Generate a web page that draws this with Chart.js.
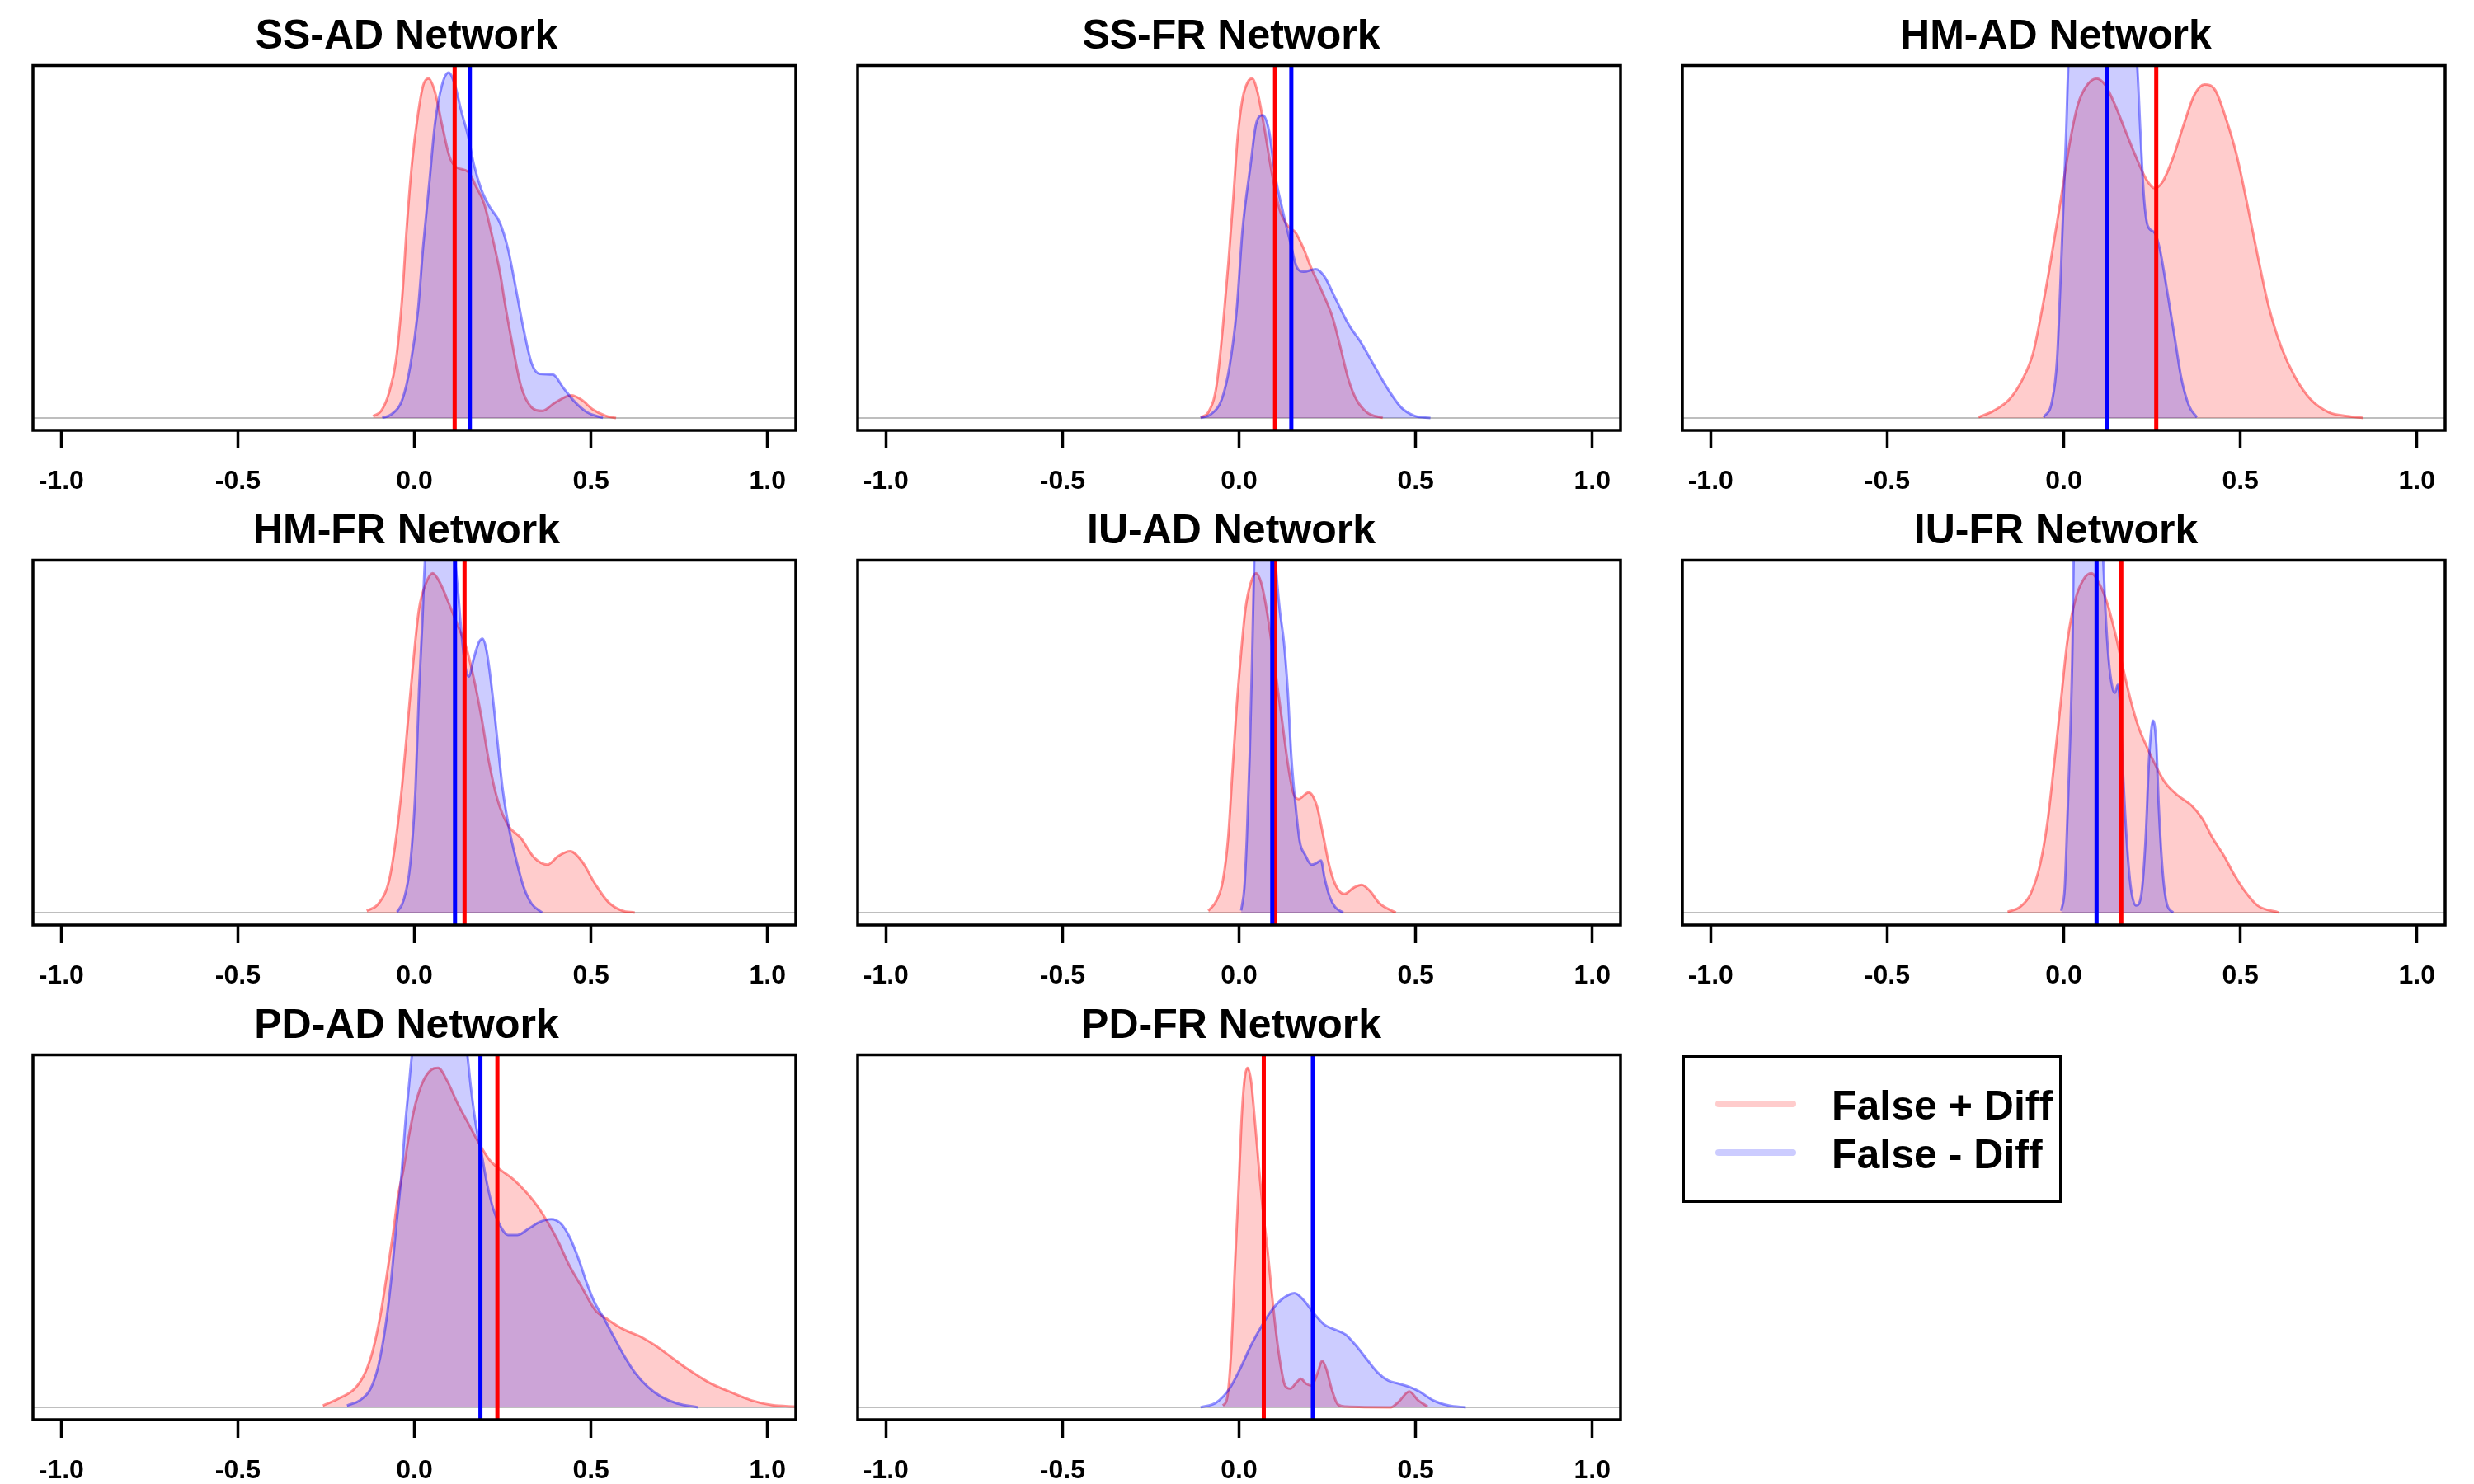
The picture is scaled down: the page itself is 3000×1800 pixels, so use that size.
<!DOCTYPE html>
<html>
<head>
<meta charset="utf-8">
<script src="https://cdn.jsdelivr.net/npm/chart.js@4.4.1/dist/chart.umd.min.js"></script>
<style>
html,body{margin:0;padding:0;background:#fff;}
#wrap{position:relative;width:3000px;height:1800px;overflow:hidden;background:#fff;}
#wrap canvas{position:absolute;}
.ptitle{position:absolute;width:1000px;text-align:center;font-family:'Liberation Sans',Arial,sans-serif;font-weight:bold;
  font-size:50px;line-height:50px;color:#000;white-space:nowrap;}
#legend{position:absolute;left:2040px;top:1280px;width:460px;height:179px;box-sizing:border-box;border:3px solid #000;
  font-family:'Liberation Sans',Arial,sans-serif;font-weight:bold;font-size:50px;line-height:50px;color:#000;}
#legend .sw{position:absolute;left:37px;width:98px;height:8px;border-radius:4px;}
#legend .lb{position:absolute;left:178px;white-space:nowrap;}
</style>
</head>
<body>
<div id="wrap">
  <div id="legend"></div>
</div>
<script>
// ---------- data ----------
const panelTitles = ['SS-AD Network','SS-FR Network','HM-AD Network','HM-FR Network','IU-AD Network','IU-FR Network','PD-AD Network','PD-FR Network'];
const xTicks = [-1, -0.5, 0, 0.5, 1];
const legendLabels = ['False + Diff', 'False - Diff'];
const redMeans  = [0.114, 0.102, 0.262, 0.142, 0.102, 0.163, 0.235, 0.070];
const blueMeans = [0.157, 0.148, 0.123, 0.115, 0.094, 0.093, 0.187, 0.209];

const ssadRed = [[-0.117,0.005],[-0.094,0.020],[-0.072,0.071],[-0.052,0.164],[-0.034,0.350],[-0.022,0.536],[-0.007,0.721],[0.010,0.861],[0.025,0.944],[0.040,0.963],[0.058,0.926],[0.078,0.833],[0.100,0.740],[0.118,0.712],[0.153,0.698],[0.175,0.656],[0.197,0.610],[0.220,0.517],[0.242,0.415],[0.257,0.322],[0.277,0.211],[0.302,0.090],[0.332,0.030],[0.362,0.020],[0.399,0.044],[0.444,0.064],[0.474,0.051],[0.504,0.025],[0.542,0.006],[0.571,0]];
const ssadBlue = [[-0.091,0],[-0.064,0.011],[-0.034,0.053],[-0.012,0.146],[0.010,0.304],[0.025,0.489],[0.043,0.675],[0.058,0.833],[0.078,0.944],[0.097,0.980],[0.115,0.944],[0.133,0.870],[0.153,0.796],[0.168,0.721],[0.190,0.647],[0.212,0.601],[0.242,0.554],[0.265,0.480],[0.287,0.369],[0.310,0.248],[0.332,0.155],[0.355,0.125],[0.392,0.123],[0.422,0.085],[0.452,0.048],[0.489,0.016],[0.534,0]];

const ssfrRed = [[-0.109,0.002],[-0.087,0.016],[-0.064,0.090],[-0.046,0.257],[-0.030,0.443],[-0.016,0.629],[-0.004,0.796],[0.010,0.907],[0.025,0.954],[0.037,0.963],[0.052,0.926],[0.070,0.833],[0.093,0.694],[0.115,0.591],[0.138,0.545],[0.160,0.526],[0.183,0.480],[0.205,0.424],[0.235,0.359],[0.265,0.285],[0.287,0.201],[0.310,0.109],[0.332,0.053],[0.362,0.016],[0.407,0]];
const ssfrBlue = [[-0.109,0],[-0.079,0.011],[-0.049,0.053],[-0.027,0.146],[-0.007,0.304],[0.010,0.536],[0.033,0.721],[0.048,0.833],[0.067,0.859],[0.085,0.814],[0.103,0.684],[0.123,0.591],[0.145,0.499],[0.163,0.429],[0.183,0.415],[0.217,0.422],[0.242,0.401],[0.272,0.341],[0.310,0.266],[0.347,0.211],[0.384,0.146],[0.422,0.081],[0.459,0.030],[0.497,0.006],[0.542,0]];

const hmadRed = [[-0.241,0.002],[-0.199,0.020],[-0.154,0.053],[-0.117,0.109],[-0.087,0.183],[-0.064,0.294],[-0.042,0.415],[-0.019,0.554],[-0.004,0.647],[0.018,0.786],[0.040,0.889],[0.063,0.940],[0.093,0.963],[0.118,0.944],[0.145,0.889],[0.175,0.814],[0.205,0.740],[0.235,0.675],[0.257,0.652],[0.280,0.670],[0.310,0.740],[0.340,0.833],[0.370,0.917],[0.399,0.946],[0.429,0.930],[0.459,0.851],[0.489,0.749],[0.519,0.610],[0.549,0.461],[0.579,0.322],[0.616,0.201],[0.654,0.118],[0.699,0.053],[0.751,0.016],[0.803,0.005],[0.848,0]];
const hmadBlue = [[-0.057,0.002],[-0.034,0.044],[-0.019,0.164],[-0.007,0.443],[0.000,0.629],[0.007,0.814],[0.013,1.0],[0.03,1.2],[0.07,1.32],[0.12,1.3],[0.17,1.18],[0.208,1.0],[0.217,0.814],[0.227,0.629],[0.238,0.545],[0.257,0.526],[0.272,0.480],[0.287,0.396],[0.302,0.304],[0.317,0.211],[0.332,0.118],[0.355,0.034],[0.377,0.002]];

const hmfrRed = [[-0.135,0.005],[-0.102,0.025],[-0.072,0.090],[-0.052,0.211],[-0.034,0.369],[-0.019,0.536],[-0.004,0.703],[0.013,0.861],[0.033,0.935],[0.052,0.963],[0.073,0.935],[0.097,0.879],[0.123,0.814],[0.145,0.759],[0.168,0.666],[0.190,0.554],[0.212,0.424],[0.235,0.322],[0.265,0.248],[0.302,0.211],[0.340,0.155],[0.377,0.136],[0.407,0.160],[0.441,0.174],[0.474,0.146],[0.512,0.081],[0.549,0.030],[0.587,0.006],[0.624,0]];
const hmfrBlue = [[-0.049,0.002],[-0.031,0.034],[-0.012,0.136],[0.003,0.350],[0.013,0.629],[0.022,0.814],[0.030,1.0],[0.05,1.15],[0.08,1.2],[0.105,1.1],[0.115,1.0],[0.124,0.907],[0.133,0.796],[0.145,0.694],[0.154,0.670],[0.168,0.721],[0.183,0.768],[0.193,0.777],[0.205,0.740],[0.220,0.629],[0.235,0.489],[0.250,0.350],[0.268,0.239],[0.287,0.155],[0.310,0.071],[0.332,0.025],[0.362,0]];

const iuadRed = [[-0.087,0.005],[-0.064,0.034],[-0.046,0.090],[-0.031,0.211],[-0.019,0.396],[-0.007,0.582],[0.006,0.740],[0.018,0.861],[0.033,0.935],[0.048,0.963],[0.063,0.935],[0.078,0.861],[0.093,0.759],[0.108,0.647],[0.123,0.536],[0.138,0.424],[0.153,0.341],[0.168,0.322],[0.197,0.341],[0.220,0.304],[0.238,0.220],[0.257,0.127],[0.277,0.071],[0.298,0.053],[0.325,0.071],[0.347,0.079],[0.370,0.062],[0.399,0.025],[0.444,0]];
const iuadBlue = [[0.006,0.006],[0.015,0.071],[0.022,0.211],[0.030,0.443],[0.037,0.721],[0.043,1.0],[0.06,1.25],[0.08,1.3],[0.095,1.15],[0.103,1.0],[0.115,0.861],[0.127,0.768],[0.138,0.629],[0.148,0.443],[0.160,0.304],[0.172,0.201],[0.187,0.164],[0.205,0.136],[0.220,0.141],[0.232,0.148],[0.242,0.099],[0.257,0.044],[0.272,0.016],[0.295,0]];

const iufrRed = [[-0.159,0.002],[-0.124,0.016],[-0.094,0.053],[-0.067,0.136],[-0.046,0.257],[-0.027,0.424],[-0.007,0.610],[0.010,0.768],[0.033,0.889],[0.055,0.944],[0.078,0.963],[0.100,0.935],[0.123,0.879],[0.145,0.796],[0.168,0.694],[0.190,0.601],[0.212,0.526],[0.235,0.471],[0.257,0.424],[0.287,0.369],[0.325,0.331],[0.362,0.304],[0.392,0.267],[0.422,0.211],[0.452,0.164],[0.482,0.109],[0.512,0.062],[0.549,0.020],[0.609,0]];
const iufrBlue = [[-0.007,0.005],[0.003,0.071],[0.010,0.257],[0.018,0.489],[0.025,0.768],[0.028,1.0],[0.05,1.2],[0.075,1.3],[0.1,1.2],[0.112,1.0],[0.118,0.861],[0.127,0.721],[0.138,0.638],[0.145,0.624],[0.153,0.647],[0.160,0.582],[0.168,0.396],[0.178,0.211],[0.190,0.071],[0.205,0.020],[0.220,0.053],[0.232,0.211],[0.242,0.443],[0.253,0.545],[0.262,0.480],[0.269,0.304],[0.280,0.118],[0.292,0.025],[0.310,0]];

const pdadRed = [[-0.259,0.005],[-0.214,0.025],[-0.169,0.053],[-0.139,0.099],[-0.117,0.164],[-0.097,0.257],[-0.079,0.369],[-0.061,0.489],[-0.046,0.601],[-0.031,0.675],[-0.016,0.768],[0.003,0.861],[0.025,0.926],[0.048,0.958],[0.067,0.963],[0.093,0.926],[0.123,0.861],[0.153,0.805],[0.183,0.749],[0.212,0.703],[0.242,0.675],[0.280,0.647],[0.317,0.610],[0.347,0.573],[0.377,0.526],[0.407,0.471],[0.437,0.406],[0.474,0.341],[0.512,0.276],[0.549,0.248],[0.594,0.220],[0.639,0.201],[0.684,0.174],[0.729,0.141],[0.773,0.109],[0.833,0.071],[0.893,0.044],[0.953,0.020],[1.013,0.006],[1.080,0.002]];
const pdadBlue = [[-0.191,0.005],[-0.154,0.020],[-0.124,0.053],[-0.102,0.118],[-0.082,0.229],[-0.067,0.350],[-0.052,0.508],[-0.037,0.656],[-0.025,0.814],[-0.016,0.907],[-0.007,1.0],[0.02,1.15],[0.06,1.25],[0.1,1.2],[0.135,1.08],[0.150,1.0],[0.160,0.907],[0.175,0.796],[0.190,0.721],[0.205,0.638],[0.223,0.564],[0.242,0.517],[0.265,0.489],[0.292,0.489],[0.325,0.508],[0.355,0.526],[0.387,0.534],[0.414,0.522],[0.441,0.480],[0.467,0.415],[0.489,0.350],[0.512,0.294],[0.534,0.257],[0.564,0.201],[0.594,0.146],[0.624,0.099],[0.661,0.058],[0.699,0.030],[0.744,0.011],[0.803,0]];

const pdfrRed = [[-0.046,0.005],[-0.034,0.025],[-0.022,0.164],[-0.012,0.396],[-0.001,0.629],[0.007,0.814],[0.015,0.926],[0.024,0.963],[0.034,0.926],[0.043,0.833],[0.055,0.694],[0.067,0.564],[0.081,0.443],[0.093,0.322],[0.105,0.211],[0.118,0.118],[0.130,0.062],[0.145,0.053],[0.163,0.071],[0.175,0.081],[0.190,0.067],[0.205,0.062],[0.223,0.099],[0.235,0.132],[0.247,0.109],[0.262,0.053],[0.280,0.008],[0.302,0.002],[0.429,0],[0.452,0.016],[0.482,0.045],[0.507,0.020],[0.534,0.002]];
const pdfrBlue = [[-0.109,0],[-0.064,0.014],[-0.027,0.053],[0.003,0.109],[0.033,0.174],[0.063,0.229],[0.093,0.276],[0.123,0.308],[0.157,0.324],[0.183,0.304],[0.212,0.266],[0.242,0.234],[0.272,0.220],[0.302,0.206],[0.332,0.174],[0.362,0.136],[0.392,0.099],[0.422,0.076],[0.452,0.067],[0.482,0.058],[0.512,0.044],[0.549,0.020],[0.594,0.005],[0.642,0]];

const redCurves  = [ssadRed, ssfrRed, hmadRed, hmfrRed, iuadRed, iufrRed, pdadRed, pdfrRed];
const blueCurves = [ssadBlue, ssfrBlue, hmadBlue, hmfrBlue, iuadBlue, iufrBlue, pdadBlue, pdfrBlue];

// ---------- styling ----------
const FONT = "'Liberation Sans', Arial, sans-serif";
const X_MIN = -1.08, X_MAX = 1.08;
const Y_MIN = -0.0353, Y_MAX = 1.0;

const boxPlugin = {
  id: 'box',
  afterDraw(chart) {
    const a = chart.chartArea, ctx = chart.ctx;
    ctx.save();
    ctx.strokeStyle = '#000';
    ctx.lineWidth = 3.5;
    ctx.strokeRect(a.left, a.top, a.right - a.left, a.bottom - a.top);
    ctx.restore();
  }
};

const toPts = arr => arr.map(p => ({x: p[0], y: p[1]}));

const wrap = document.getElementById('wrap');
panelTitles.forEach((title, i) => {
  const col = i % 3, row = Math.floor(i / 3);

  const t = document.createElement('div');
  t.className = 'ptitle';
  t.style.left = (col * 1000 - 7) + 'px';
  t.style.top = (row * 600 + 17) + 'px';
  t.textContent = title;
  wrap.appendChild(t);

  const cv = document.createElement('canvas');
  cv.width = 1000; cv.height = 624;
  cv.style.left = (col * 1000) + 'px';
  cv.style.top = (row * 600) + 'px';
  cv.style.width = '1000px'; cv.style.height = '624px';
  wrap.appendChild(cv);

  new Chart(cv.getContext('2d'), {
    type: 'scatter',
    data: {
      datasets: [
        { data: [{x: X_MIN, y: 0}, {x: X_MAX, y: 0}], showLine: true, pointRadius: 0,
          borderColor: '#BEBEBE', borderWidth: 2, order: 6, clip: 0 },
        { data: toPts(redCurves[i]), showLine: true, pointRadius: 0,
          borderColor: 'rgba(255,0,0,0.42)', backgroundColor: 'rgba(255,0,0,0.2)',
          borderWidth: 3, fill: {value: 0}, cubicInterpolationMode: 'monotone', order: 5, clip: 0 },
        { data: toPts(blueCurves[i]), showLine: true, pointRadius: 0,
          borderColor: 'rgba(0,0,255,0.42)', backgroundColor: 'rgba(0,0,255,0.2)',
          borderWidth: 3, fill: {value: 0}, cubicInterpolationMode: 'monotone', order: 4, clip: 0 },
        { data: [{x: redMeans[i], y: Y_MIN}, {x: redMeans[i], y: Y_MAX}], showLine: true, pointRadius: 0,
          borderColor: '#FF0000', borderWidth: 5, order: 3, clip: 0 },
        { data: [{x: blueMeans[i], y: Y_MIN}, {x: blueMeans[i], y: Y_MAX}], showLine: true, pointRadius: 0,
          borderColor: '#0000FF', borderWidth: 5, order: 2, clip: 0 }
      ]
    },
    options: {
      responsive: false,
      animation: false,
      devicePixelRatio: 1,
      events: [],
      layout: { padding: { left: 40, right: 35, top: 79.5, bottom: 0 } },
      plugins: {
        legend: { display: false },
        tooltip: { enabled: false },
        title: { display: false }
      },
      scales: {
        x: {
          type: 'linear', min: X_MIN, max: X_MAX,
          afterBuildTicks: (scale) => { scale.ticks = xTicks.map(v => ({ value: v })); },
          ticks: {
            autoSkip: false, maxRotation: 0, minRotation: 0, padding: 24, color: '#000',
            font: { family: FONT, size: 32, weight: 'bold', lineHeight: 1 },
            callback: (v) => Number(v).toFixed(1)
          },
          grid: { drawOnChartArea: false, drawTicks: true, tickLength: 22, tickWidth: 3.5, tickColor: '#000' },
          border: { display: false }
        },
        y: { display: false, min: Y_MIN, max: Y_MAX }
      }
    },
    plugins: [boxPlugin]
  });
});

// ---------- legend ----------
const legendColors = ['rgba(255,0,0,0.2)', 'rgba(0,0,255,0.2)'];
const legendTops = [52, 111];
const lg = document.getElementById('legend');
legendLabels.forEach((lab, k) => {
  const sw = document.createElement('div');
  sw.className = 'sw';
  sw.style.top = legendTops[k] + 'px';
  sw.style.background = legendColors[k];
  lg.appendChild(sw);
  const tx = document.createElement('div');
  tx.className = 'lb';
  tx.style.top = (legendTops[k] - 19) + 'px';
  tx.textContent = lab;
  lg.appendChild(tx);
});
</script>
</body>
</html>
